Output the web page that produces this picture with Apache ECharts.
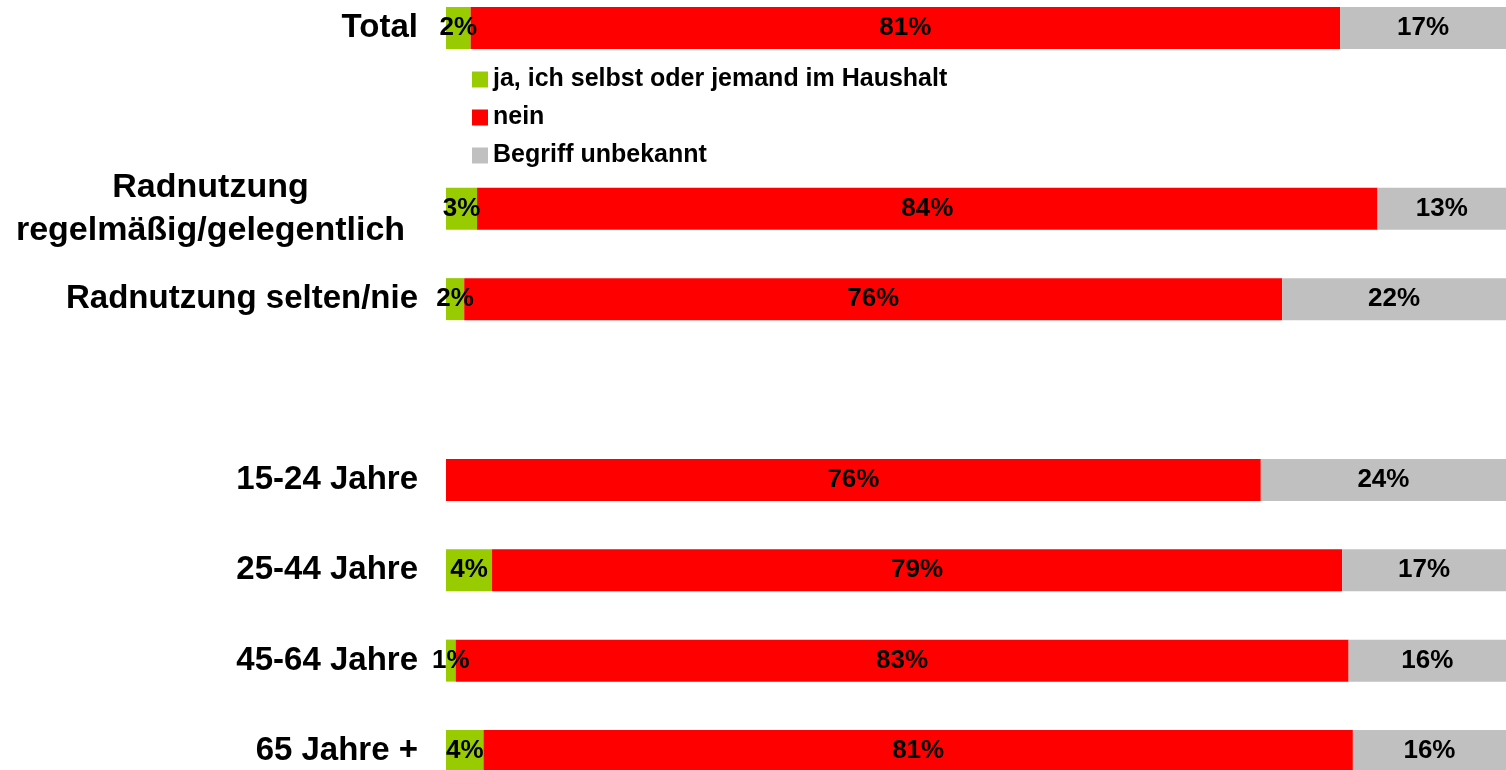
<!DOCTYPE html>
<html>
<head>
<meta charset="utf-8">
<script src="https://cdn.jsdelivr.net/npm/echarts@6/dist/echarts.min.js"></script>
<style>
  html, body { margin: 0; padding: 0; background: #fff; }
  #chart { width: 1506px; height: 770px; }
</style>
</head>
<body>
<div id="chart"></div>
<script>
  // rows top to bottom, '' and ' ' are the empty gaps
  var categories = ['Total', '', 'Radnutzung\nregelmäßig/gelegentlich', 'Radnutzung selten/nie', ' ',
    '15-24 Jahre', '25-44 Jahre', '45-64 Jahre', '65 Jahre +'];
  var seriesNames = ['ja, ich selbst oder jemand im Haushalt', 'nein', 'Begriff unbekannt'];
  var jaValues = [2.3, null, 2.9, 1.7, null, 0, 4.3, 0.9, 3.5];
  var neinValues = [81.2, null, 84.1, 76.4, null, 76.1, 79.4, 83.4, 81.2];
  var unbekanntValues = [16.5, null, 13.0, 21.9, null, 23.9, 16.5, 16.0, 16.0];
  var colors = ['#99cc00', '#ff0000', '#c0c0c0'];

  var font = 'Liberation Sans, Arial, sans-serif';

  var myChart = echarts.init(document.getElementById('chart'));

  function makeSeries(name, values, color) {
    return {
      name: name,
      type: 'bar',
      stack: 'all',
      barWidth: 42,
      data: values,
      itemStyle: { color: color },
      label: {
        show: true,
        position: 'inside',
        color: '#000',
        fontFamily: font,
        fontWeight: 'bold',
        fontSize: 26,
        formatter: function (p) {
          if (!p.value) return '';
          return Math.round(p.value) + '%';
        }
      },
      emphasis: { disabled: true }
    };
  }

  var option = {
    animation: false,
    color: colors,
    legend: {
      data: seriesNames,
      orient: 'vertical',
      left: 467,
      top: 62,
      icon: 'rect',
      itemWidth: 16,
      itemHeight: 16,
      itemGap: 13,
      selectedMode: false,
      textStyle: {
        color: '#000',
        fontFamily: font,
        fontWeight: 'bold',
        fontSize: 25
      }
    },
    grid: {
      left: 446,
      right: 0,
      top: 28,
      bottom: 19,
      containLabel: false
    },
    xAxis: {
      type: 'value',
      min: 0,
      max: 99,   // bars run a little past the right edge in the original
      show: false
    },
    yAxis: {
      type: 'category',
      inverse: true,
      boundaryGap: false,
      data: categories,
      axisLine: { show: false },
      axisTick: { show: false },
      splitLine: { show: false },
      axisLabel: {
        margin: 28,
        color: '#000',
        fontFamily: font,
        fontWeight: 'bold',
        fontSize: 33,
        formatter: function (v) {
          if (v.indexOf('\n') >= 0) {
            return v.split('\n').map(function (s) { return '{c|' + s + '}'; }).join('\n');
          }
          return v;
        },
        rich: {
          c: {
            width: 415,
            align: 'center',
            lineHeight: 43,
            color: '#000',
            fontFamily: font,
            fontWeight: 'bold',
            fontSize: 34
          }
        }
      }
    },
    series: [
      makeSeries(seriesNames[0], jaValues, colors[0]),
      makeSeries(seriesNames[1], neinValues, colors[1]),
      makeSeries(seriesNames[2], unbekanntValues, colors[2])
    ]
  };

  myChart.setOption(option);
</script>
</body>
</html>
